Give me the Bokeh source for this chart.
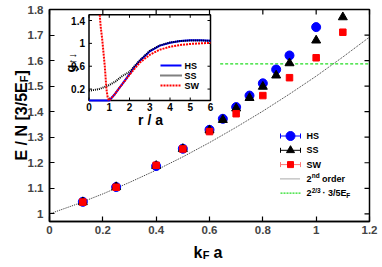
import math
from bokeh.plotting import figure
from bokeh.models import Range1d, PrintfTickFormatter
from bokeh.core.properties import value
from bokeh.embed import file_html
from bokeh.resources import INLINE

# ---------------- data ----------------
kfa_hs = [0.125, 0.25, 0.4, 0.5, 0.6, 0.65, 0.7, 0.75, 0.8, 0.85, 0.9, 1.0]
e_hs = [1.047, 1.105, 1.187, 1.255, 1.329, 1.372, 1.418, 1.463, 1.511, 1.565, 1.620, 1.731]
kfa_ss = [0.125, 0.25, 0.4, 0.5, 0.6, 0.65, 0.7, 0.75, 0.8, 0.85, 0.9, 1.0, 1.1]
e_ss = [1.046, 1.105, 1.188, 1.254, 1.327, 1.368, 1.413, 1.454, 1.498, 1.542, 1.590, 1.679, 1.770]
kfa_sw = [0.125, 0.25, 0.4, 0.5, 0.6, 0.7, 0.8, 0.9, 1.0, 1.1]
e_sw = [1.046, 1.104, 1.190, 1.254, 1.322, 1.392, 1.463, 1.533, 1.611, 1.711]

order2_x = [0.0, 0.1, 0.2, 0.3, 0.4, 0.5, 0.6, 0.7, 0.8, 0.9, 1.0, 1.1, 1.2]
order2_y = [1.0, 1.037, 1.078, 1.123, 1.171, 1.223, 1.279, 1.339, 1.402, 1.469, 1.539, 1.614, 1.692]
green_x = [0.64, 1.2]
green_y = [1.587, 1.587]

x_ticks = [0, 0.2, 0.4, 0.6, 0.8, 1.0, 1.2]
y_ticks = [1.0, 1.1, 1.2, 1.3, 1.4, 1.5, 1.6, 1.7, 1.8]
x_lim = (0, 1.2)
y_lim = (0.97, 1.8)

# inset: pair distribution g(r)
inset_r_ticks = [0, 1, 2, 3, 4, 5, 6]
inset_g_ticks = [0.2, 0.6, 1.0, 1.4]
inset_xlim = (0, 6)
inset_ylim = (0, 1.5)

r_hs = [0.0, 1.0, 1.25, 1.5, 1.75, 2.0, 2.25, 2.5, 3.0, 3.5, 4.0, 4.5, 5.0, 5.5, 6.0]
g_hs = [0.0, 0.0, 0.10, 0.22, 0.34, 0.46, 0.59, 0.69, 0.86, 0.96, 1.01, 1.04, 1.055, 1.055, 1.045]
r_ss = [0.0, 0.5, 1.0, 1.3, 1.64, 2.0, 2.25, 2.5, 3.0, 3.5, 4.0, 4.5, 5.0, 5.5, 6.0]
g_ss = [0.17, 0.20, 0.27, 0.33, 0.43, 0.50, 0.60, 0.70, 0.87, 0.965, 1.015, 1.04, 1.05, 1.05, 1.045]
r_sw = [0.53, 0.58, 0.65, 0.72, 0.78, 0.86, 0.92, 0.97, 1.0, 1.25, 1.5, 2.0, 2.5, 3.0, 3.5, 4.0, 4.5, 5.0, 5.5, 6.0]
g_sw = [1.5, 1.28, 1.08, 0.82, 0.60, 0.20, 0.06, 0.01, 0.0, 0.10, 0.22, 0.45, 0.66, 0.80, 0.89, 0.94, 0.97, 0.99, 1.0, 1.01]

FONT = "Liberation Sans"
BLUE = "#0000ff"
RED = "#ff0000"
GREEN = "#22dd22"

# canvas size and position of the main plot box on it (pixels)
W, H = 380, 265
BX0, BX1, BY0, BY1 = 49, 369, 9, 221
sxm = (BX1 - BX0) / (x_lim[1] - x_lim[0])
sym = (BY1 - BY0) / (y_lim[1] - y_lim[0])

p = figure(width=W, height=H, output_backend="svg", toolbar_location=None,
           x_range=Range1d(x_lim[0] - BX0 / sxm, x_lim[1] + (W - BX1) / sxm),
           y_range=Range1d(y_lim[0] - (H - BY1) / sym, y_lim[1] + BY0 / sym),
           min_border_left=0, min_border_right=0, min_border_top=0, min_border_bottom=0,
           background_fill_color="white", border_fill_color="white", outline_line_color=None)
p.grid.visible = False
p.xaxis.ticker = x_ticks
p.yaxis.ticker = y_ticks
p.xaxis.fixed_location = y_lim[0]
p.yaxis.fixed_location = x_lim[0]
p.xaxis.bounds = x_lim
p.yaxis.bounds = y_lim
for ax in (p.xaxis[0], p.yaxis[0]):
    ax.axis_line_width = 1.5
    ax.major_tick_in = 5
    ax.major_tick_out = 0
    ax.major_tick_line_width = 1.2
    ax.minor_tick_line_color = None
    ax.major_label_text_font = FONT
    ax.major_label_text_font_style = "bold"
    ax.major_label_text_font_size = "11.5px"
    ax.formatter = PrintfTickFormatter(format="%g")
p.xaxis[0].major_label_standoff = 4
p.yaxis[0].major_label_standoff = 6

# plot box and mirrored ticks on top and right
p.quad(left=[x_lim[0]], right=[x_lim[1]], bottom=[y_lim[0]], top=[y_lim[1]],
       fill_color=None, line_color="black", line_width=1.5)
p.ray(x=x_ticks, y=[y_lim[1]] * len(x_ticks), length=5, length_units="screen",
      angle=-math.pi / 2, line_color="black", line_width=1.2)
p.ray(x=[x_lim[1]] * len(y_ticks), y=y_ticks, length=5, length_units="screen",
      angle=math.pi, line_color="black", line_width=1.2)

# main curves and points
p.line(order2_x, order2_y, line_color="#333333", line_width=1, line_dash="1 1")
p.line(green_x, green_y, line_color=GREEN, line_width=1.2, line_dash="3 2")
p.scatter(kfa_hs, e_hs, marker="circle", size=9, fill_color=BLUE, line_color=BLUE)
p.scatter(kfa_ss, e_ss, marker="triangle", size=9, fill_color="black", line_color="black")
p.scatter(kfa_sw, e_sw, marker="square", size=6.5, fill_color=RED, line_color=RED)

# ---------------- inset ----------------
IX0, IX1, IY0, IY1 = 88.5, 210.0, 100.0, 14.3   # inset box on the canvas
sx = (IX1 - IX0) / (inset_xlim[1] - inset_xlim[0])
sy = (IY0 - IY1) / (inset_ylim[1] - inset_ylim[0])
p.extra_x_ranges["ix"] = Range1d(inset_xlim[0] - IX0 / sx, inset_xlim[0] + (W - IX0) / sx)
p.extra_y_ranges["iy"] = Range1d(inset_ylim[0] - (H - IY0) / sy, inset_ylim[0] + IY0 / sy)
# pixel range for layout items (canvas pixels, origin top-left)
p.extra_x_ranges["px"] = Range1d(0, W)
p.extra_y_ranges["px"] = Range1d(H, 0)
IR = dict(x_range_name="ix", y_range_name="iy")
PX = dict(x_range_name="px", y_range_name="px")

p.quad(left=[inset_xlim[0]], right=[inset_xlim[1]], bottom=[inset_ylim[0]], top=[inset_ylim[1]],
       fill_color="white", line_color="black", line_width=1.5, **IR)
n = len(inset_r_ticks)
m = len(inset_g_ticks)
p.ray(x=inset_r_ticks, y=[inset_ylim[0]] * n, length=3, length_units="screen", angle=math.pi / 2,
      line_color="black", line_width=1, **IR)
p.ray(x=inset_r_ticks, y=[inset_ylim[1]] * n, length=3, length_units="screen", angle=-math.pi / 2,
      line_color="black", line_width=1, **IR)
p.ray(x=[inset_xlim[0]] * m, y=inset_g_ticks, length=3, length_units="screen", angle=0,
      line_color="black", line_width=1, **IR)
p.ray(x=[inset_xlim[1]] * m, y=inset_g_ticks, length=3, length_units="screen", angle=math.pi,
      line_color="black", line_width=1, **IR)
p.text(x=inset_r_ticks, y=[inset_ylim[0]] * n, text=["%g" % t for t in inset_r_ticks],
       y_offset=2, text_align="center", text_baseline="top", text_font=value(FONT),
       text_font_style="bold", text_font_size="10px", text_color="black", **IR)
p.text(x=[inset_xlim[0]] * m, y=inset_g_ticks, text=["%g" % t for t in inset_g_ticks],
       x_offset=-4, text_align="right", text_baseline="middle", text_font=value(FONT),
       text_font_style="bold", text_font_size="10px", text_color="black", **IR)

p.line(r_hs, g_hs, line_color=BLUE, line_width=2, **IR)
p.line(r_ss, g_ss, line_color="black", line_width=2, line_dash="1 1", **IR)
p.line(r_sw, g_sw, line_color=RED, line_width=2, line_dash="2 1", **IR)

def ptext(x, y, t, size, **kw):
    p.text(x=[x], y=[y], text=[t], text_font=value(FONT), text_font_style="bold",
           text_font_size=size, text_color="black", **kw, **PX)

# inset axis labels
ptext(150, 119, "r / a", "14px", text_align="center", text_baseline="alphabetic")
ptext(69.5, 72, "g", "13px", angle=math.pi / 2, text_align="left", text_baseline="alphabetic")
ptext(71.5, 63.5, "\u2191\u2193", "11px", angle=math.pi / 2, text_align="left", text_baseline="alphabetic")

# inset legend
for yy, col, dash, lab in [(65, BLUE, "solid", "HS"), (75, "black", "1 1", "SS"), (85, RED, "2 1", "SW")]:
    p.line(x=[160, 181], y=[yy, yy], line_color=col, line_width=2, line_dash=dash, **PX)
    ptext(184, yy, lab, "9px", text_align="left", text_baseline="middle")

# main legend
rows = [135.5, 149.8, 164.1, 178.4, 192.7]
LX0, LX1, LM, LT = 280, 300, 290, 306
for yy, col, lcol, mk, ms, lab in [(rows[0], BLUE, BLUE, "circle", 9, "HS"),
                                  (rows[1], "black", "black", "triangle", 8, "SS"),
                                  (rows[2], RED, "#ff7777", "square", 6, "SW")]:
    p.line(x=[LX0, LX1], y=[yy, yy], line_color=lcol, line_width=1, **PX)
    p.segment(x0=[LX0, LX1], y0=[yy - 2.5] * 2, x1=[LX0, LX1], y1=[yy + 2.5] * 2,
              line_color=lcol, line_width=1, **PX)
    p.scatter(x=[LM], y=[yy], marker=mk, size=ms, fill_color=col, line_color=col, **PX)
    ptext(LT, yy, lab, "9px", text_align="left", text_baseline="middle")
p.line(x=[LX0, LX1], y=[rows[3]] * 2, line_color="#555555", line_width=1, line_dash="1 1", **PX)
p.line(x=[LX0, LX1], y=[rows[4]] * 2, line_color=GREEN, line_width=1.2, line_dash="2 1", **PX)
ptext(LT, rows[3], "2", "9px", text_align="left", text_baseline="middle")
ptext(LT + 5.2, rows[3] - 3, "nd", "6.5px", text_align="left", text_baseline="middle")
ptext(LT + 15.5, rows[3], "order", "9px", text_align="left", text_baseline="middle")
ptext(LT, rows[4], "2", "9px", text_align="left", text_baseline="middle")
ptext(LT + 5.2, rows[4] - 3, "2/3", "6.5px", text_align="left", text_baseline="middle")
ptext(LT + 16, rows[4], "\u00b7 3/5E", "9px", text_align="left", text_baseline="middle")
ptext(LT + 39.7, rows[4] + 2.5, "F", "6.5px", text_align="left", text_baseline="middle")

# ---------------- main axis labels ----------------
ptext(193, 251.7, "k", "16px", text_align="left", text_baseline="alphabetic")
ptext(202.3, 254.5, "F", "11px", text_align="left", text_baseline="alphabetic")
ptext(213, 251.7, "a", "16px", text_align="left", text_baseline="alphabetic")
ptext(20.7, 160, "E / N [3/5E", "16px", angle=math.pi / 2, text_align="left", text_baseline="alphabetic")
ptext(23.7, 81.7, "F", "11px", angle=math.pi / 2, text_align="left", text_baseline="alphabetic")
ptext(20.7, 75, "]", "16px", angle=math.pi / 2, text_align="left", text_baseline="alphabetic")

open("out.html", "w").write(file_html(p, INLINE))
